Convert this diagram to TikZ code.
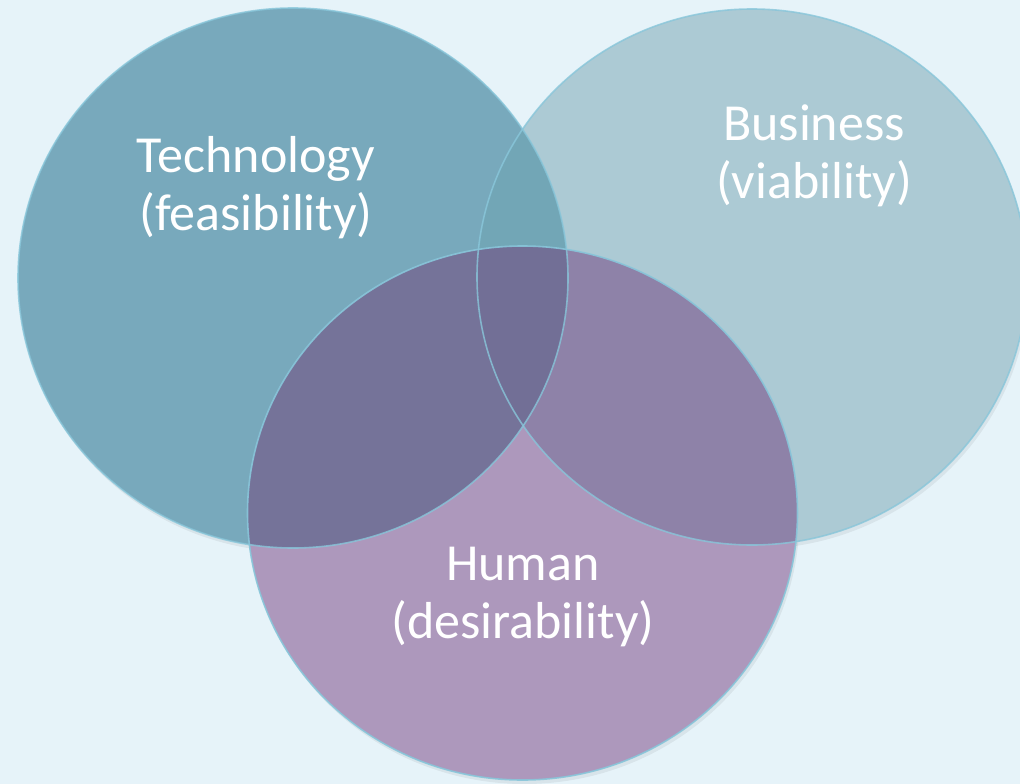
\documentclass[tikz,border=0pt]{standalone}
\usepackage{fontspec}
\setmainfont{Carlito}
\definecolor{bgc}{RGB}{230,243,249}
\definecolor{tcol}{RGB}{120,169,188}
\definecolor{bcol}{RGB}{172,202,212}
\definecolor{hcol}{RGB}{173,152,188}
\definecolor{tbcol}{RGB}{114,166,182}
\definecolor{thcol}{RGB}{117,115,153}
\definecolor{bhcol}{RGB}{142,130,168}
\definecolor{tbhcol}{RGB}{114,111,150}
\definecolor{edge}{RGB}{136,198,218}
\tikzset{
  lbl/.style={text=white, align=center, font=\fontsize{52}{58}\selectfont, inner sep=0pt},
  rim/.style={draw=edge, line width=1.6pt},
  shade/.style={fill=black, opacity=0.06}
}
\def\Tc{(293,278) ellipse [x radius=275pt, y radius=270pt]}
\def\Bc{(752,277) ellipse [x radius=275pt, y radius=268pt]}
\def\Hc{(522.5,513) ellipse [x radius=275pt, y radius=267pt]}
\begin{document}
\begin{tikzpicture}[x=1pt,y=-1pt]
\fill[bgc] (0,0) rectangle (1020,784);
\useasboundingbox (0,0) rectangle (1020,784);
% soft shadows
\fill[shade] (295,282) ellipse [x radius=275pt, y radius=270pt];
\fill[shade] (754,281) ellipse [x radius=275pt, y radius=268pt];
\fill[shade] (524.5,517) ellipse [x radius=275pt, y radius=267pt];
% regions
\fill[tcol] \Tc;
\fill[bcol] \Bc;
\fill[hcol] \Hc;
\begin{scope}\clip \Tc; \fill[tbcol] \Bc; \end{scope}
\begin{scope}\clip \Tc; \fill[thcol] \Hc; \end{scope}
\begin{scope}\clip \Bc; \fill[bhcol] \Hc; \end{scope}
\begin{scope}\clip \Tc; \clip \Bc; \fill[tbhcol] \Hc; \end{scope}
% rims
\draw[rim, draw opacity=0.8] \Tc;
\draw[rim, draw opacity=0.8] \Bc;
\draw[rim, draw opacity=0.9] \Hc;
% labels
\node[lbl] (tech) at (256,188) {Technology\\(feasibility)};
\node[lbl] (bus) at (814,156) {Business\\(viability)};
\node[lbl] (hum) at (523,597) {Human\\(desirability)};
\end{tikzpicture}
\end{document}
